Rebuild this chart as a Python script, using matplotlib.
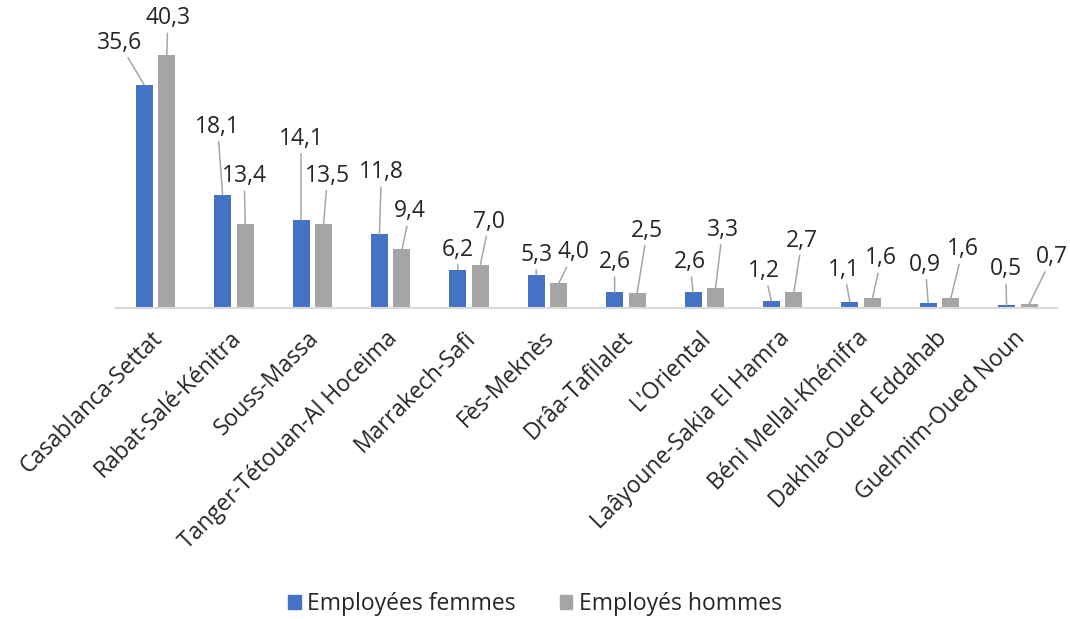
import matplotlib
matplotlib.use("Agg")
import matplotlib.pyplot as plt
import numpy as np
from matplotlib.patches import Patch
import matplotlib.transforms as mtransforms

plt.rcParams['font.family'] = ['Open Sans', 'DejaVu Sans']

regions = ["Casablanca-Settat", "Rabat-Salé-Kénitra", "Souss-Massa",
           "Tanger-Tétouan-Al Hoceima", "Marrakech-Safi", "Fès-Meknès",
           "Drâa-Tafilalet", "L'Oriental", "Laâyoune-Sakia El Hamra",
           "Béni Mellal-Khénifra", "Dakhla-Oued Eddahab", "Guelmim-Oued Noun"]
femmes = [35.6, 18.1, 14.1, 11.8, 6.2, 5.3, 2.6, 2.6, 1.2, 1.1, 0.9, 0.5]
hommes = [40.3, 13.4, 13.5, 9.4, 7.0, 4.0, 2.5, 3.3, 2.7, 1.6, 1.6, 0.7]
series_names = ["Employées femmes", "Employés hommes"]

# label offsets (pixels) from bar top, styling only
off_f = [(-25, 42), (-5, 68), (0, 81), (2, 62), (0, 20), (0, 20),
         (0, 30), (-3, 30), (-7, 30), (-6, 32), (-3, 38), (-1, 36)]
off_h = [(1, 37), (-1, 48), (4, 48), (8, 38), (9, 43), (15, 31),
         (10, 62), (7, 58), (8, 51), (9, 40), (12, 49), (23, 47)]

C_F = "#4472C4"
C_H = "#A5A5A5"
TXT = "#262626"
FS = 16.5

fig = plt.figure(figsize=(10.70, 6.19), dpi=100)
ax = fig.add_axes([116.3/1070, 1-308.5/619, (1057.1-116.3)/1070, (308.5-13)/619])

x = np.arange(len(regions))
w = 0.217
d = 0.144
bf = ax.bar(x - d, femmes, w, color=C_F, zorder=2)
bh = ax.bar(x + d, hommes, w, color=C_H, zorder=2)

ax.set_xlim(-0.5, len(regions) - 0.5)
ax.set_ylim(0, 47.05)

def fmt(v):
    return f"{v:.1f}".replace(".", ",")

for bars, vals, offs in ((bf, femmes, off_f), (bh, hommes, off_h)):
    for b, v, o in zip(bars, vals, offs):
        ax.annotate(fmt(v), xy=(b.get_x() + b.get_width()/2, v),
                    xytext=o, textcoords='offset pixels',
                    ha='center', va='center', fontsize=FS, color=TXT,
                    arrowprops=dict(arrowstyle='-', color='#A6A6A6', lw=1.1,
                                    shrinkA=0, shrinkB=0), zorder=3)

for s in ['left', 'right', 'top']:
    ax.spines[s].set_visible(False)
ax.spines['bottom'].set_color('#D9D9D9')
ax.spines['bottom'].set_linewidth(1.5)
ax.set_yticks([])
ax.set_xticks(x)
ax.set_xticklabels(regions, rotation=45, ha='right', va='top',
                   rotation_mode='anchor', fontsize=FS, color=TXT)
ax.tick_params(axis='x', length=0, pad=13)
shift = mtransforms.ScaledTranslation(-5/100, 0, fig.dpi_scale_trans)
for lab in ax.get_xticklabels():
    lab.set_transform(lab.get_transform() + shift)

handles = [Patch(color=C_F), Patch(color=C_H)]
fig.legend(handles, series_names, loc='center', bbox_to_anchor=(535/1070, 1-604/619),
           ncol=2, frameon=False, fontsize=FS, handlelength=0.55, handleheight=0.55,
           handletextpad=0.3, columnspacing=1.9, labelcolor=TXT)

fig.savefig("out.png", dpi=100)
